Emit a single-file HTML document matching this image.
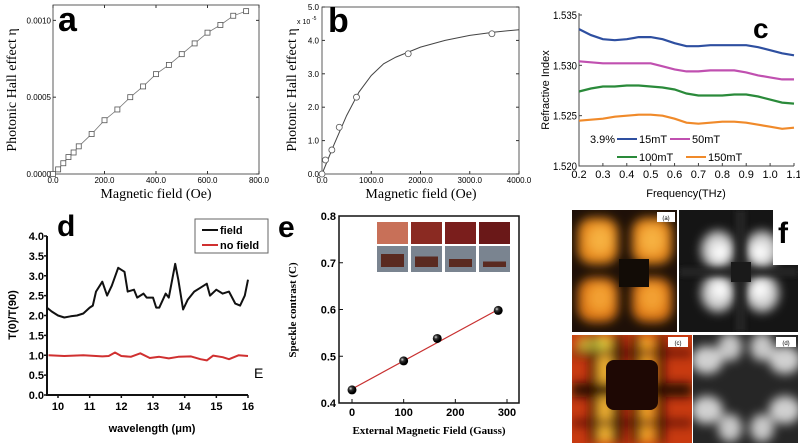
<!DOCTYPE html>
<html><head><meta charset="utf-8"><style>
body{margin:0;background:#fff;}
svg{display:block;font-family:"Liberation Sans",sans-serif;}
.serif{font-family:"Liberation Serif",serif;}
</style></head><body>
<svg id="s" width="800" height="445" viewBox="0 0 800 445">
<defs>
<filter id="bl" x="-20%" y="-20%" width="140%" height="140%"><feGaussianBlur stdDeviation="5"/></filter>
<filter id="bl2" x="-20%" y="-20%" width="140%" height="140%"><feGaussianBlur stdDeviation="3"/></filter>
<clipPath id="cA"><rect x="572" y="210" width="105" height="122"/></clipPath>
<clipPath id="cB"><rect x="679" y="210" width="119" height="122"/></clipPath>
<clipPath id="cC"><rect x="572" y="335" width="120" height="108"/></clipPath>
<clipPath id="cD"><rect x="693" y="335" width="105" height="108"/></clipPath>
<radialGradient id="gBall" cx="0.35" cy="0.35"><stop offset="0" stop-color="#ddd"/><stop offset="0.4" stop-color="#333"/><stop offset="1" stop-color="#000"/></radialGradient>
</defs>
<g id="pa"></g>
<g id="pb"></g>
<g id="pc"></g>
<g id="pd"></g>
<g id="pe"></g>
<g id="pf">
  <g clip-path="url(#cA)">
    <rect x="572" y="210" width="105" height="122" fill="#1e1008"/>
    <g filter="url(#bl)">
      <rect x="578" y="218" width="40" height="46" rx="14" fill="#e88a1c"/>
      <rect x="632" y="218" width="40" height="46" rx="14" fill="#e88a1c"/>
      <rect x="578" y="278" width="40" height="44" rx="14" fill="#e07a18"/>
      <rect x="632" y="278" width="40" height="44" rx="14" fill="#e07a18"/>
      <ellipse cx="600" cy="240" rx="12" ry="14" fill="#f6b040"/>
      <ellipse cx="652" cy="240" rx="12" ry="14" fill="#f6b040"/>
      <ellipse cx="600" cy="298" rx="12" ry="14" fill="#f3a030"/>
      <ellipse cx="652" cy="298" rx="12" ry="14" fill="#f3a030"/>
    </g>
    <rect x="619" y="259" width="30" height="28" fill="#120c06"/>
  </g>
  <rect x="657" y="212" width="18" height="10" fill="#fff"/><text x="666" y="220" font-size="6" text-anchor="middle">(a)</text>
  <g clip-path="url(#cB)">
    <rect x="679" y="210" width="119" height="122" fill="#151515"/>
    <g filter="url(#bl)">
      <ellipse cx="718" cy="250" rx="17" ry="19" fill="#d0d0d0"/>
      <ellipse cx="762" cy="250" rx="17" ry="19" fill="#d0d0d0"/>
      <ellipse cx="718" cy="293" rx="17" ry="19" fill="#d0d0d0"/>
      <ellipse cx="762" cy="293" rx="17" ry="19" fill="#d0d0d0"/>
      <ellipse cx="720" cy="252" rx="8" ry="8" fill="#fff"/>
      <ellipse cx="760" cy="252" rx="8" ry="8" fill="#fff"/>
      <ellipse cx="720" cy="290" rx="8" ry="8" fill="#fff"/>
      <ellipse cx="760" cy="290" rx="8" ry="8" fill="#fff"/>
    </g>
    <g filter="url(#bl2)">
      <rect x="736" y="210" width="9" height="122" fill="#262626"/>
      <rect x="679" y="268" width="119" height="8" fill="#262626"/>
    </g>
    <rect x="731" y="262" width="20" height="20" fill="#1a1a1a"/>
  </g>
  <rect x="773" y="210" width="27" height="55" fill="#fff"/>
  <text x="783" y="243" font-size="30" font-weight="bold" text-anchor="middle">f</text>
  <g clip-path="url(#cC)">
    <rect x="572" y="335" width="120" height="108" fill="#c83a10"/>
    <g filter="url(#bl)">
      <rect x="598" y="335" width="14" height="108" fill="#f0b030"/>
      <rect x="640" y="335" width="14" height="108" fill="#f0a028"/>
      <rect x="612" y="335" width="10" height="108" fill="#2a0804"/>
      <rect x="632" y="335" width="8" height="108" fill="#2a0804"/>
      <rect x="590" y="335" width="8" height="108" fill="#3a0c04"/>
      <rect x="656" y="335" width="8" height="108" fill="#3a0c04"/>
      <rect x="572" y="383" width="120" height="14" fill="#2a0804"/>
      <rect x="572" y="350" width="120" height="6" fill="#3a0c04" opacity="0.8"/>
      <rect x="572" y="420" width="120" height="6" fill="#3a0c04" opacity="0.8"/>
      <rect x="577" y="337" width="30" height="14" fill="#c8d040" opacity="0.7"/>
    </g>
    <rect x="606" y="360" width="52" height="50" rx="8" fill="#1e0804"/>
  </g>
  <rect x="668" y="337" width="20" height="10" fill="#fff"/><text x="678" y="345" font-size="6" text-anchor="middle">(c)</text>
  <g clip-path="url(#cD)">
    <rect x="693" y="335" width="105" height="108" fill="#262626"/>
    <g filter="url(#bl)">
      <ellipse cx="707" cy="360" rx="16" ry="14" fill="#d0d0d0"/><ellipse cx="785" cy="360" rx="16" ry="14" fill="#d0d0d0"/>
      <ellipse cx="730" cy="347" rx="12" ry="14" fill="#c8c8c8"/><ellipse cx="762" cy="347" rx="12" ry="14" fill="#c8c8c8"/>
      <ellipse cx="707" cy="410" rx="16" ry="14" fill="#d0d0d0"/><ellipse cx="785" cy="410" rx="16" ry="14" fill="#d0d0d0"/>
      <ellipse cx="730" cy="428" rx="12" ry="14" fill="#c8c8c8"/><ellipse cx="762" cy="428" rx="12" ry="14" fill="#c8c8c8"/>
    </g>
  </g>
  <rect x="776" y="337" width="20" height="10" fill="#fff"/><text x="786" y="345" font-size="6" text-anchor="middle">(d)</text>
</g>
</svg>
<script>
// ---------- data ----------
const aX=[0,20,40,60,80,100,150,200,250,300,350,400,450,500,550,600,650,700,750];
const aY=[0,0.00003,0.00007,0.00011,0.00014,0.00018,0.00026,0.00035,0.00042,0.0005,0.00057,0.00065,0.00071,0.00078,0.00085,0.00092,0.00097,0.00103,0.00106];
const aXTicks=["0.0","200.0","400.0","600.0","800.0"];
const aYTicks=["0.0000","0.0005","0.0010"];
const bX=[0,70,200,350,700,1750,3450];
const bY=[0,0.42,0.72,1.4,2.3,3.6,4.2];
const bFitX=[0,250,500,750,1000,1250,1500,2000,2500,3000,3500,4000];
const bFitY=[0,0.9,1.75,2.45,2.95,3.3,3.5,3.8,4.0,4.15,4.25,4.32];
const bXTicks=["0.0","1000.0","2000.0","3000.0","4000.0"];
const bYTicks=["0.0","1.0","2.0","3.0","4.0","5.0"];
const cX=[0.2,0.25,0.3,0.35,0.4,0.45,0.5,0.55,0.6,0.65,0.7,0.75,0.8,0.85,0.9,0.95,1.0,1.05,1.1];
const c15=[1.5336,1.5330,1.5326,1.5325,1.5326,1.5328,1.5328,1.5326,1.5322,1.5319,1.5319,1.5320,1.5320,1.5320,1.5320,1.5318,1.5315,1.5312,1.5310];
const c50=[1.5304,1.5303,1.5302,1.5302,1.5302,1.5302,1.5302,1.5299,1.5296,1.5294,1.5294,1.5295,1.5295,1.5295,1.5293,1.5290,1.5288,1.5286,1.5286];
const c100=[1.5274,1.5277,1.5279,1.5279,1.5280,1.5280,1.5279,1.5278,1.5276,1.5272,1.5270,1.5270,1.5270,1.5271,1.5271,1.5269,1.5266,1.5263,1.5262];
const c150=[1.5245,1.5246,1.5247,1.5249,1.5250,1.5251,1.5251,1.5250,1.5247,1.5243,1.5242,1.5243,1.5244,1.5244,1.5243,1.5241,1.5239,1.5237,1.5238];
const cXTicks=["0.2","0.3","0.4","0.5","0.6","0.7","0.8","0.9","1.0","1.1"];
const cYTicks=["1.520","1.525","1.530","1.535"];
const dFieldX=[9.65,9.8,10.0,10.2,10.4,10.6,10.8,11.0,11.1,11.2,11.4,11.55,11.7,11.9,12.1,12.2,12.4,12.5,12.7,12.8,13.0,13.1,13.2,13.4,13.5,13.7,13.8,13.95,14.1,14.3,14.5,14.7,14.8,15.0,15.2,15.4,15.6,15.75,15.9,16.0];
const dFieldY=[2.2,2.1,2.0,1.95,1.98,2.0,2.05,2.2,2.25,2.6,2.85,2.5,2.75,3.2,3.1,2.6,2.65,2.45,2.55,2.45,2.45,2.2,2.2,2.55,2.45,3.3,2.9,2.15,2.4,2.6,2.7,2.8,2.5,2.65,2.55,2.6,2.3,2.25,2.5,2.9];
const dNoX=[9.7,10.2,10.8,11.4,11.6,11.8,12.0,12.3,12.6,12.9,13.2,13.5,13.8,14.2,14.5,14.7,14.9,15.2,15.4,15.7,16.0];
const dNoY=[1.0,0.98,1.0,0.97,0.98,1.07,0.98,0.96,1.05,0.93,0.96,0.92,0.96,0.97,0.9,0.87,0.99,0.95,0.9,1.0,0.98];
const dXTicks=["10","11","12","13","14","15","16"];
const dYTicks=["0.0","0.5","1.0","1.5","2.0","2.5","3.0","3.5","4.0"];
const eX=[0,100,165,283];
const eY=[0.428,0.49,0.538,0.598];
const eFitX=[0,283];
const eFitY=[0.43,0.6];
const eXTicks=["0","100","200","300"];
const eYTicks=["0.4","0.5","0.6","0.7","0.8"];

const NS="http://www.w3.org/2000/svg";
function mk(p,tag,at){const e=document.createElementNS(NS,tag);for(const k in at)e.setAttribute(k,at[k]);p.appendChild(e);return e;}
function lin(d0,d1,r0,r1){return v=>r0+(v-d0)/(d1-d0)*(r1-r0);}
function txt(p,x,y,s,size,opt){const t=mk(p,"text",Object.assign({x:x,y:y,"font-size":size},opt||{}));t.textContent=s;return t;}
function path(xs,ys,sx,sy){return xs.map((v,i)=>(i?"L":"M")+sx(v).toFixed(1)+","+sy(ys[i]).toFixed(1)).join("");}

// ---------- panel a ----------
(function(){const g=document.getElementById("pa");
const sx=lin(0,800,53,259),sy=lin(0,0.0011,174,5);
let r=mk(g,"rect",{x:53,y:5,width:206,height:169,fill:"none",stroke:"#333","stroke-width":0.8});

aXTicks.forEach(t=>{const x=sx(+t);mk(g,"line",{x1:x,x2:x,y1:174,y2:171,stroke:"#333"});mk(g,"line",{x1:x,x2:x,y1:5,y2:8,stroke:"#333"});
 const e=txt(g,x,183,t,8,{"text-anchor":"middle"});});
aYTicks.forEach(t=>{const y=sy(+t);mk(g,"line",{x1:53,x2:56,y1:y,y2:y,stroke:"#333"});mk(g,"line",{x1:259,x2:256,y1:y,y2:y,stroke:"#333"});
 const e=txt(g,51,y+3,t,8,{"text-anchor":"end"});});
let l=mk(g,"path",{d:path(aX,aY,sx,sy),fill:"none",stroke:"#777","stroke-width":0.8});

aX.forEach((v,i)=>{const m=mk(g,"rect",{x:sx(v)-2.5,y:sy(aY[i])-2.5,width:5,height:5,fill:"#fff",stroke:"#555","stroke-width":0.8});
 });
let e=txt(g,156,198,"Magnetic field (Oe)",14,{"text-anchor":"middle",class:"serif"});
e=txt(g,0,0,"Photonic Hall effect η",14,{"text-anchor":"middle",class:"serif",transform:"translate(16,90) rotate(-90)"});
e=txt(g,58,31,"a",34,{"font-weight":"bold"});
})();

// ---------- panel b ----------
(function(){const g=document.getElementById("pb");
const sx=lin(0,4000,322,519),sy=lin(0,5,174,7);
let r=mk(g,"rect",{x:322,y:7,width:197,height:167,fill:"none",stroke:"#333","stroke-width":0.8});

bXTicks.forEach(t=>{const x=sx(+t);mk(g,"line",{x1:x,x2:x,y1:174,y2:171,stroke:"#333"});
 const e=txt(g,x,183,t,8,{"text-anchor":"middle"});});
bYTicks.forEach(t=>{const y=sy(+t);mk(g,"line",{x1:322,x2:325,y1:y,y2:y,stroke:"#333"});mk(g,"line",{x1:519,x2:516,y1:y,y2:y,stroke:"#333"});
 const e=txt(g,319,y+3,t,8,{"text-anchor":"end"});});
let e=txt(g,297,24,"x 10",7);
txt(g,312,20,"-5",5);
let l=mk(g,"path",{d:path(bFitX,bFitY,sx,sy),fill:"none",stroke:"#444","stroke-width":1});

bX.forEach((v,i)=>{const m=mk(g,"circle",{cx:sx(v),cy:sy(bY[i]),r:3,fill:"#fff",stroke:"#555","stroke-width":0.8});
 });
e=txt(g,421,198,"Magnetic field (Oe)",14,{"text-anchor":"middle",class:"serif"});
e=txt(g,0,0,"Photonic Hall effect η",14,{"text-anchor":"middle",class:"serif",transform:"translate(296,90) rotate(-90)"});
e=txt(g,328,32,"b",34,{"font-weight":"bold"});
})();

// ---------- panel c ----------
(function(){const g=document.getElementById("pc");
const sx=lin(0.2,1.1,579,794),sy=lin(1.520,1.535,166,15);
mk(g,"path",{d:"M579,13V166H794",fill:"none",stroke:"#444","stroke-width":1});
cXTicks.forEach(t=>{const x=sx(+t);mk(g,"line",{x1:x,x2:x,y1:166,y2:163,stroke:"#444"});
 const e=txt(g,x,178,t,11,{"text-anchor":"middle"});});
cYTicks.forEach(t=>{const y=sy(+t);mk(g,"line",{x1:579,x2:582,y1:y,y2:y,stroke:"#444"});
 const e=txt(g,577,y+4,t,11,{"text-anchor":"end",textLength:"24",lengthAdjust:"spacingAndGlyphs"});});
const ser=[[c15,"#2e4fa0","15mT"],[c50,"#c050b0","50mT"],[c100,"#2a8a3a","100mT"],[c150,"#f08a2a","150mT"]];
ser.forEach(s=>{const l=mk(g,"path",{d:path(cX,s[0],sx,sy),fill:"none",stroke:s[1],"stroke-width":2.2});
 });
let e=txt(g,590,143,"3.9%",11);
const lp=[[617,139],[670,139],[617,157],[686,157]];
ser.forEach((s,i)=>{const [x,y]=lp[i];mk(g,"line",{x1:x,x2:x+20,y1:y,y2:y,stroke:s[1],"stroke-width":2});
 const t=txt(g,x+22,y+4,s[2],11);});
e=txt(g,686,197,"Frequency(THz)",11,{"text-anchor":"middle"});
e=txt(g,0,0,"Refractive Index",11,{"text-anchor":"middle",transform:"translate(549,90) rotate(-90)"});
e=txt(g,753,38,"c",28,{"font-weight":"bold"});
})();

// ---------- panel d ----------
(function(){const g=document.getElementById("pd");
const sx=lin(10,16,58,248),sy=lin(0,4,395,236);
mk(g,"path",{d:"M47,236V395H248",fill:"none",stroke:"#111","stroke-width":2});
dXTicks.forEach(t=>{const x=sx(+t);mk(g,"line",{x1:x,x2:x,y1:395,y2:398,stroke:"#111","stroke-width":1.5});
 const e=txt(g,x,410,t,11,{"text-anchor":"middle","font-weight":"bold"});});
dYTicks.forEach(t=>{const y=sy(+t);mk(g,"line",{x1:44,x2:47,y1:y,y2:y,stroke:"#111","stroke-width":1.5});
 const e=txt(g,44,y+4,t,11,{"text-anchor":"end","font-weight":"bold"});});
let l=mk(g,"path",{d:path(dFieldX,dFieldY,sx,sy),fill:"none",stroke:"#111","stroke-width":2,"stroke-linejoin":"round"});

l=mk(g,"path",{d:path(dNoX,dNoY,sx,sy),fill:"none",stroke:"#d03030","stroke-width":2,"stroke-linejoin":"round"});

let r=mk(g,"rect",{x:195,y:219,width:73,height:34,fill:"#fff",stroke:"#666","stroke-width":1});

mk(g,"line",{x1:202,x2:218,y1:230,y2:230,stroke:"#111","stroke-width":2});
let e=txt(g,220,234,"field",11,{"font-weight":"bold"});
mk(g,"line",{x1:202,x2:218,y1:245,y2:245,stroke:"#d03030","stroke-width":2});
e=txt(g,220,249,"no field",11,{"font-weight":"bold"});
e=txt(g,152,432,"wavelength (μm)",11,{"text-anchor":"middle","font-weight":"bold"});
e=txt(g,0,0,"T(0)/T(90)",11,{"text-anchor":"middle","font-weight":"bold",transform:"translate(16,315) rotate(-90)"});
e=txt(g,57,236,"d",30,{"font-weight":"bold"});
e=txt(g,254,378,"E",14);
e=txt(g,278,237,"e",30,{"font-weight":"bold"});
})();

// ---------- panel e ----------
(function(){const g=document.getElementById("pe");
const sx=lin(0,300,352,507),sy=lin(0.4,0.8,403,216);
let r=mk(g,"rect",{x:339,y:216,width:180,height:187,fill:"none",stroke:"#111","stroke-width":1.5});

eXTicks.forEach(t=>{const x=sx(+t);mk(g,"line",{x1:x,x2:x,y1:403,y2:399,stroke:"#111"});
 const e=txt(g,x,416,t,11,{"text-anchor":"middle","font-weight":"bold"});});
eYTicks.forEach(t=>{const y=sy(+t);mk(g,"line",{x1:339,x2:343,y1:y,y2:y,stroke:"#111"});
 const e=txt(g,336,y+4,t,11,{"text-anchor":"end","font-weight":"bold"});});
const topCols=["#c87058","#8a2a22","#7a1e1c","#6a1818"];
for(let i=0;i<4;i++){const x=377+i*34;
 const a=mk(g,"rect",{x:x,y:222,width:31,height:22,fill:topCols[i]});
 
 const b=mk(g,"rect",{x:x,y:246,width:31,height:26,fill:"#7a8490"});
 
 mk(g,"rect",{x:x+4,y:264-(4-i)*2.5,width:23,height:(4-i)*2.5+3,fill:"#5a2a20"});}
let l=mk(g,"path",{d:path(eFitX,eFitY,sx,sy),fill:"none",stroke:"#c83030","stroke-width":1.2});

eX.forEach((v,i)=>{const m=mk(g,"circle",{cx:sx(v),cy:sy(eY[i]),r:4.5,fill:"url(#gBall)"});
 });
let e=txt(g,429,434,"External Magnetic Field (Gauss)",11,{"text-anchor":"middle","font-weight":"bold",class:"serif"});
e=txt(g,0,0,"Speckle contrast (C)",11,{"text-anchor":"middle","font-weight":"bold",class:"serif",transform:"translate(296,310) rotate(-90)"});
})();
</script>
</body></html>
